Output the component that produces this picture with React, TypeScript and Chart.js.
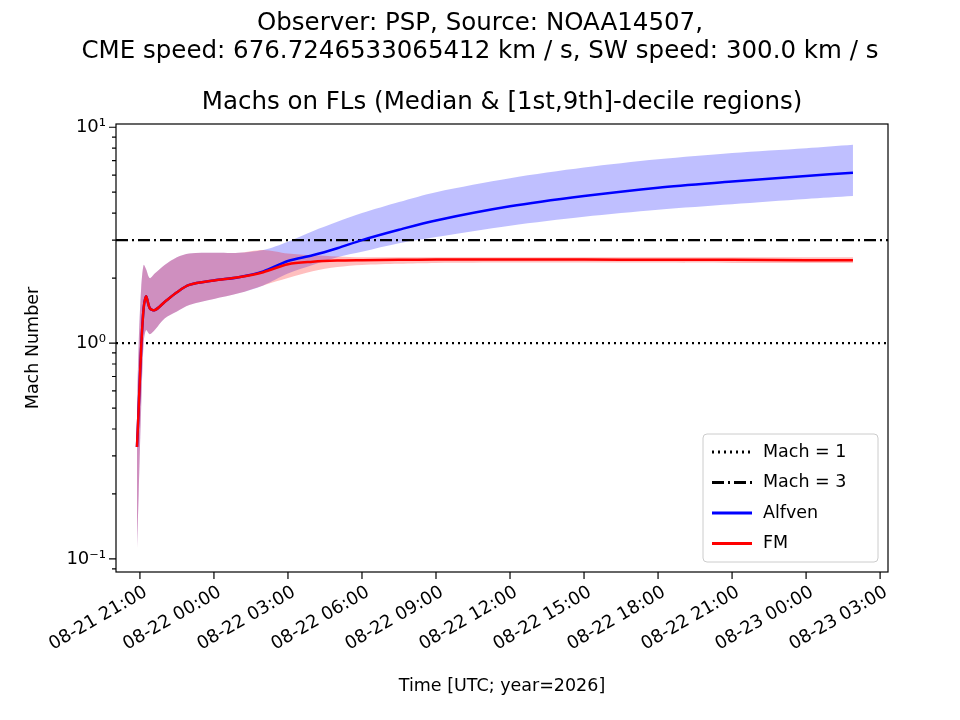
import React, { useEffect, useRef } from "react";
import { Chart, registerables } from "chart.js";
Chart.register(...registerables);

const times = [20.88, 20.95, 21.05, 21.15, 21.25, 21.4, 21.6, 22.0, 22.5, 23.0, 24, 25, 26, 27, 28, 29, 30, 31.5, 33, 36, 39, 42, 45, 48, 49.9];
const alfven = [0.33, 0.5, 0.95, 1.45, 1.65, 1.45, 1.42, 1.55, 1.72, 1.86, 1.95, 2.02, 2.15, 2.4, 2.55, 2.75, 3.0, 3.35, 3.7, 4.3, 4.8, 5.25, 5.6, 5.95, 6.15];
const fm = [0.33, 0.5, 0.95, 1.45, 1.65, 1.45, 1.42, 1.55, 1.72, 1.86, 1.95, 2.02, 2.13, 2.32, 2.38, 2.41, 2.42, 2.43, 2.44, 2.44, 2.44, 2.43, 2.43, 2.42, 2.42];
const alfLo = [0.11, 0.2, 0.5, 1.0, 1.15, 1.1, 1.15, 1.3, 1.4, 1.5, 1.6, 1.7, 1.85, 2.1, 2.3, 2.5, 2.65, 2.9, 3.1, 3.5, 3.85, 4.15, 4.4, 4.65, 4.8];
const alfHi = [0.5, 1.0, 1.8, 2.3, 2.2, 2.0, 2.1, 2.3, 2.5, 2.6, 2.62, 2.62, 2.7, 2.95, 3.3, 3.65, 4.0, 4.5, 5.0, 5.8, 6.5, 7.1, 7.6, 8.0, 8.3];
const fmLo = [0.11, 0.2, 0.5, 1.0, 1.15, 1.1, 1.15, 1.3, 1.4, 1.5, 1.6, 1.7, 1.85, 2.0, 2.15, 2.25, 2.3, 2.33, 2.35, 2.36, 2.36, 2.36, 2.35, 2.35, 2.35];
const fmHi = [0.5, 1.0, 1.8, 2.3, 2.2, 2.0, 2.1, 2.3, 2.5, 2.6, 2.62, 2.62, 2.7, 2.6, 2.55, 2.52, 2.5, 2.5, 2.5, 2.5, 2.5, 2.5, 2.5, 2.5, 2.5];
const xTickHours = [21, 24, 27, 30, 33, 36, 39, 42, 45, 48, 51];
const xTickLabels = ["08-21 21:00", "08-22 00:00", "08-22 03:00", "08-22 06:00", "08-22 09:00", "08-22 12:00", "08-22 15:00", "08-22 18:00", "08-22 21:00", "08-23 00:00", "08-23 03:00"];
const X_MIN = 20.03, X_MAX = 51.32, Y_MIN = 0.087, Y_MAX = 10.35;
const titleLines = ["Observer: PSP, Source: NOAA14507,", "CME speed: 676.7246533065412 km / s, SW speed: 300.0 km / s"];
const subTitle = "Machs on FLs (Median & [1st,9th]-decile regions)";

const FONT = "'DejaVu Sans', sans-serif";
const pts = (ys: number[]) => ys.map((y, i) => ({ x: times[i], y }));

export default function App() {
  const ref = useRef<HTMLCanvasElement>(null);
  useEffect(() => {
    const deco = {
      id: "deco",
      afterDraw(c: any) {
        const ctx = c.ctx, a = c.chartArea, xs = c.scales.x, ys = c.scales.y;
        ctx.save();
        ctx.fillStyle = "#000"; ctx.strokeStyle = "#000"; ctx.lineWidth = 1.2;
        ctx.strokeRect(a.left, a.top, a.right - a.left, a.bottom - a.top);
        ctx.beginPath();
        xTickHours.forEach((h) => { const px = xs.getPixelForValue(h); ctx.moveTo(px, a.bottom); ctx.lineTo(px, a.bottom + 7); });
        for (let d = -2; d <= 1; d++) for (let m = 1; m <= 9; m++) {
          const v = m * Math.pow(10, d);
          if (v < Y_MIN || v > Y_MAX) continue;
          const py = ys.getPixelForValue(v);
          ctx.moveTo(a.left, py); ctx.lineTo(a.left - (m === 1 ? 7 : 4), py);
        }
        ctx.stroke();
        ctx.font = `18px ${FONT}`; ctx.textAlign = "right"; ctx.textBaseline = "middle";
        xTickHours.forEach((h, i) => {
          const px = xs.getPixelForValue(h);
          ctx.save(); ctx.translate(px + 6, a.bottom + 19); ctx.rotate(-Math.PI / 6);
          ctx.fillText(xTickLabels[i], 0, 0); ctx.restore();
        });
        ctx.textAlign = "right";
        [[0.1, "10⁻¹"], [1, "10⁰"], [10, "10¹"]].forEach(([v, l]: any) => {
          ctx.fillText(l, a.left - 10, ys.getPixelForValue(v));
        });
        ctx.font = `17.5px ${FONT}`;
        ctx.textAlign = "center";
        ctx.fillText("Time [UTC; year=2026]", (a.left + a.right) / 2, 686);
        ctx.save(); ctx.translate(33, (a.top + a.bottom) / 2); ctx.rotate(-Math.PI / 2);
        ctx.fillText("Mach Number", 0, 0); ctx.restore();
        ctx.font = `24.5px ${FONT}`;
        ctx.fillText(titleLines[0], 480, 24);
        ctx.fillText(titleLines[1], 480, 52);
        ctx.fillText(subTitle, (a.left + a.right) / 2, 103);
        const lx = 703, ly = 434, lw = 175, lh = 128;
        ctx.fillStyle = "rgba(255,255,255,0.85)"; ctx.strokeStyle = "#ccc"; ctx.lineWidth = 1;
        ctx.beginPath(); ctx.roundRect(lx, ly, lw, lh, 4); ctx.fill(); ctx.stroke();
        const items: any[] = [["Mach = 1", "#000", [2, 4]], ["Mach = 3", "#000", [12, 4, 2, 4]], ["Alfven", "#0000ff", []], ["FM", "#ff0000", []]];
        items.forEach(([t, col, dash], i) => {
          const y = ly + 18 + i * 30.5;
          ctx.strokeStyle = col; ctx.lineWidth = 2.8; ctx.setLineDash(dash);
          ctx.beginPath(); ctx.moveTo(lx + 9, y); ctx.lineTo(lx + 49, y); ctx.stroke();
          ctx.setLineDash([]);
          ctx.fillStyle = "#000"; ctx.font = `17.5px ${FONT}`; ctx.textAlign = "left";
          ctx.fillText(t, lx + 60, y);
        });
        ctx.restore();
      },
    };
    const chart = new Chart(ref.current!, {
      type: "line",
      data: {
        datasets: [
          { data: pts(alfLo), borderWidth: 0, pointRadius: 0, fill: false, tension: 0.3, order: 6 },
          { data: pts(alfHi), borderWidth: 0, pointRadius: 0, fill: "-1", backgroundColor: "rgba(0,0,255,0.25)", tension: 0.3, order: 5 },
          { data: pts(fmLo), borderWidth: 0, pointRadius: 0, fill: false, tension: 0.3, order: 4 },
          { data: pts(fmHi), borderWidth: 0, pointRadius: 0, fill: "-1", backgroundColor: "rgba(255,0,0,0.25)", tension: 0.3, order: 3 },
          { data: [{ x: X_MIN, y: 1 }, { x: X_MAX, y: 1 }], borderColor: "#000", borderWidth: 2.2, borderDash: [2, 4], pointRadius: 0, fill: false, order: 2 },
          { data: [{ x: X_MIN, y: 3 }, { x: X_MAX, y: 3 }], borderColor: "#000", borderWidth: 2.2, borderDash: [12, 4, 2, 4], pointRadius: 0, fill: false, order: 2 },
          { data: pts(alfven), borderColor: "#0000ff", borderWidth: 2.5, pointRadius: 0, fill: false, tension: 0.3, order: 1 },
          { data: pts(fm), borderColor: "#ff0000", borderWidth: 2.5, pointRadius: 0, fill: false, tension: 0.3, order: 0 },
        ],
      },
      options: {
        animation: false, responsive: false, events: [],
        layout: { padding: { left: 0, right: 72, top: 124, bottom: 0 } },
        plugins: { legend: { display: false }, tooltip: { enabled: false }, title: { display: false } },
        scales: {
          x: { type: "linear", min: X_MIN, max: X_MAX, grid: { display: false }, border: { display: false }, ticks: { display: false },
               afterFit: (s: any) => { s.height = 148; } },
          y: { type: "logarithmic", min: Y_MIN, max: Y_MAX, grid: { display: false }, border: { display: false }, ticks: { display: false },
               afterFit: (s: any) => { s.width = 116; } },
        },
      },
      plugins: [deco],
    } as any);
    return () => chart.destroy();
  }, []);
  return (
    <div style={{ position: "absolute", left: 0, top: 0, width: 960, height: 720, background: "#fff" }}>
      <canvas ref={ref} width={960} height={720} style={{ width: 960, height: 720 }} />
    </div>
  );
}
